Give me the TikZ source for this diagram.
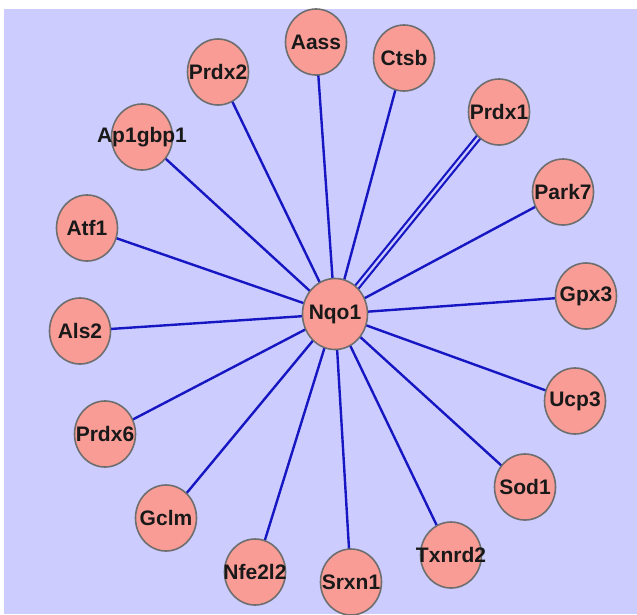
\documentclass[tikz,border=0pt]{standalone}
\usepackage{fontspec}
\setmainfont{Liberation Sans}
\usetikzlibrary{shapes.geometric}
\pgfdeclarelayer{canvas}
\pgfdeclarelayer{background}
\pgfsetlayers{canvas,background,main}
\definecolor{bgc}{RGB}{204,204,255}
\definecolor{nodefill}{RGB}{250,156,150}
\definecolor{nodeborder}{RGB}{110,110,110}
\definecolor{edgec}{RGB}{22,22,195}
\tikzset{
  gene/.style={ellipse, draw=nodeborder, line width=1.6pt, fill=nodefill,
    minimum width=61pt, minimum height=66pt, inner sep=0pt,
    label={[font=\fontsize{21}{21}\selectfont\bfseries, text=black!90, inner sep=0pt]center:#1}},
  link/.style={draw=edgec, line width=2.4pt},
  dlink/.style={draw=edgec, line width=2.2pt, double=bgc, double distance=2.2pt}
}
\begin{document}
\begin{tikzpicture}[x=1pt,y=-1pt]
\useasboundingbox (0,0) rectangle (637,614);
\begin{pgfonlayer}{canvas}
\fill[white] (0,0) rectangle (637,614);
\fill[bgc] (4,9) rectangle (637,614);
\end{pgfonlayer}
% nodes
\node[gene=Nqo1, minimum width=65pt, minimum height=71pt] (nqo1) at (335,314) {};
\node[gene=Aass] (aass) at (316,42) {};
\node[gene=Ctsb] (ctsb) at (404,58) {};
\node[gene=Prdx2] (prdx2) at (218,72) {};
\node[gene=Prdx1] (prdx1) at (499,112) {};
\node[gene=Ap1gbp1] (ap1gbp1) at (142,137) {};
\node[gene=Park7] (park7) at (563,192) {};
\node[gene=Atf1] (atf1) at (87,228) {};
\node[gene=Gpx3] (gpx3) at (586,296) {};
\node[gene=Als2] (als2) at (80,331) {};
\node[gene=Ucp3] (ucp3) at (575,401) {};
\node[gene=Prdx6] (prdx6) at (105,434) {};
\node[gene=Sod1] (sod1) at (525,487) {};
\node[gene=Gclm] (gclm) at (166,518) {};
\node[gene=Txnrd2] (txnrd2) at (451,555) {};
\node[gene=Nfe2l2] (nfe2l2) at (255,572) {};
\node[gene=Srxn1] (srxn1) at (351,582) {};
% edges
\begin{pgfonlayer}{background}
\foreach \n in {aass,ctsb,prdx2,ap1gbp1,park7,atf1,gpx3,als2,ucp3,prdx6,sod1,gclm,txnrd2,nfe2l2,srxn1}
  \draw[link] (nqo1.center) -- (\n.center);
\draw[dlink] (nqo1.center) -- (prdx1.center);
\end{pgfonlayer}
\end{tikzpicture}
\end{document}
